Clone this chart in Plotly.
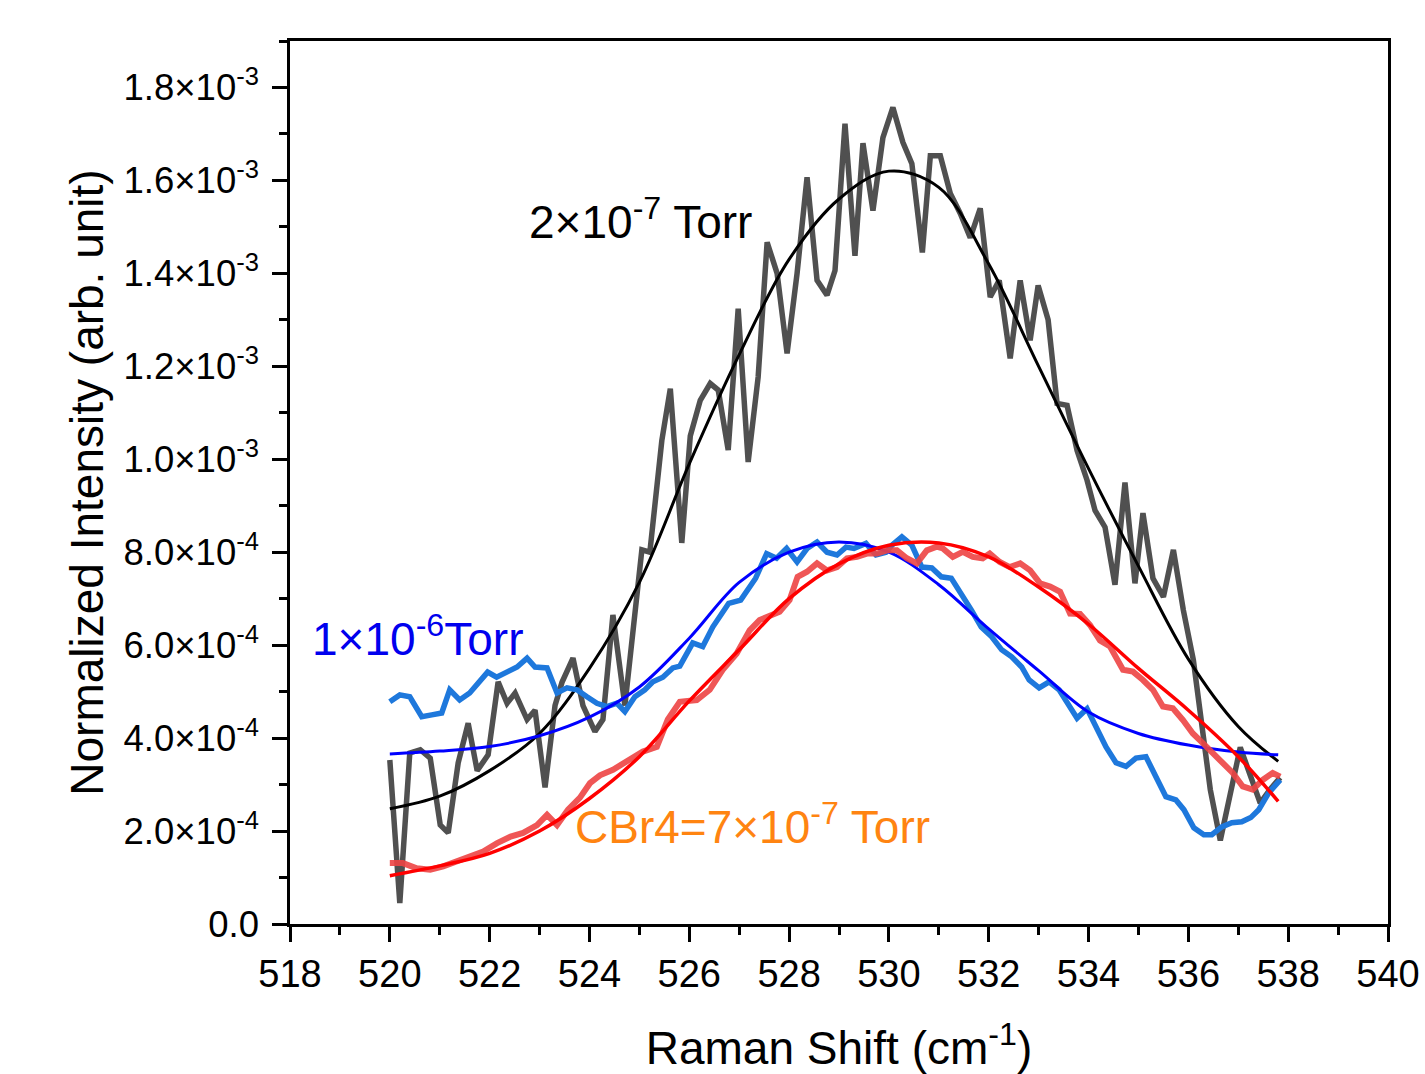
import numpy as np
import plotly.graph_objects as go

# Raman spectra around the 520 cm-1 band, intensities in units of 1e-3
UNIT = 1e-3

shift_2e7 = [520.00, 520.20, 520.40, 520.61, 520.81, 521.01, 521.17, 521.37, 521.57, 521.75,
             521.97, 522.17, 522.35, 522.51, 522.75, 522.91, 523.11, 523.31, 523.45, 523.67,
             523.87, 524.11, 524.27, 524.47, 524.71, 525.05, 525.21, 525.45, 525.62, 525.85,
             526.02, 526.22, 526.42, 526.58, 526.78, 526.98, 527.18, 527.38, 527.56, 527.76,
             527.96, 528.16, 528.36, 528.56, 528.76, 528.92, 529.12, 529.32, 529.48, 529.68,
             529.88, 530.08, 530.28, 530.46, 530.67, 530.83, 531.03, 531.23, 531.43, 531.63,
             531.83, 532.03, 532.21, 532.43, 532.63, 532.83, 532.99, 533.19, 533.37, 533.57,
             533.77, 533.97, 534.13, 534.33, 534.53, 534.73, 534.93, 535.09, 535.29, 535.50,
             535.70, 535.90, 536.10, 536.28, 536.44, 536.64, 536.84, 537.04, 537.24, 537.44,
             537.64, 537.84]
int_2e7 = [0.353, 0.045, 0.368, 0.375, 0.357, 0.213, 0.196, 0.347, 0.432, 0.330,
           0.364, 0.521, 0.475, 0.497, 0.440, 0.460, 0.294, 0.470, 0.520, 0.572,
           0.470, 0.414, 0.440, 0.665, 0.470, 0.805, 0.800, 1.040, 1.152, 0.820,
           1.050, 1.127, 1.163, 1.149, 1.020, 1.324, 0.994, 1.177, 1.467, 1.400,
           1.228, 1.400, 1.607, 1.385, 1.353, 1.406, 1.722, 1.438, 1.680, 1.535,
           1.692, 1.757, 1.682, 1.636, 1.445, 1.653, 1.653, 1.572, 1.529, 1.477,
           1.540, 1.349, 1.385, 1.217, 1.385, 1.256, 1.374, 1.300, 1.120, 1.116,
           1.019, 0.955, 0.890, 0.854, 0.730, 0.950, 0.733, 0.884, 0.744, 0.704,
           0.805, 0.675, 0.568, 0.410, 0.289, 0.180, 0.280, 0.380, 0.320, 0.260,
           0.290, 0.315]

shift_1e6 = [520.00, 520.20, 520.40, 520.64, 520.84, 521.04, 521.20, 521.40, 521.60, 521.80,
             521.96, 522.14, 522.34, 522.55, 522.75, 522.91, 523.15, 523.35, 523.55, 523.75,
             523.95, 524.15, 524.35, 524.55, 524.71, 524.91, 525.11, 525.27, 525.47, 525.67,
             525.81, 526.07, 526.27, 526.47, 526.79, 527.03, 527.33, 527.55, 527.75, 527.95,
             528.16, 528.36, 528.56, 528.76, 528.96, 529.14, 529.30, 529.54, 529.74, 529.94,
             530.06, 530.26, 530.46, 530.66, 530.86, 531.05, 531.25, 531.45, 531.65, 531.85,
             532.06, 532.26, 532.46, 532.66, 532.81, 533.01, 533.21, 533.41, 533.57, 533.77,
             533.97, 534.15, 534.35, 534.55, 534.75, 534.95, 535.15, 535.35, 535.55, 535.75,
             535.91, 536.11, 536.31, 536.47, 536.67, 536.87, 537.07, 537.25, 537.41, 537.61,
             537.84]
int_1e6 = [0.478, 0.493, 0.489, 0.446, 0.450, 0.454, 0.504, 0.482, 0.497, 0.521,
           0.542, 0.531, 0.542, 0.553, 0.572, 0.553, 0.551, 0.497, 0.508, 0.504,
           0.489, 0.475, 0.468, 0.475, 0.457, 0.489, 0.504, 0.521, 0.531, 0.551,
           0.555, 0.605, 0.597, 0.639, 0.690, 0.697, 0.744, 0.797, 0.787, 0.808,
           0.779, 0.808, 0.822, 0.800, 0.794, 0.811, 0.808, 0.819, 0.794, 0.800,
           0.815, 0.833, 0.815, 0.768, 0.766, 0.747, 0.744, 0.712, 0.676, 0.639,
           0.618, 0.590, 0.575, 0.553, 0.525, 0.508, 0.521, 0.504, 0.475, 0.443,
           0.463, 0.425, 0.381, 0.347, 0.339, 0.357, 0.360, 0.317, 0.274, 0.267,
           0.246, 0.207, 0.192, 0.192, 0.209, 0.218, 0.220, 0.229, 0.246, 0.282,
           0.310]

shift_cbr4 = [520.00, 520.26, 520.54, 520.81, 521.07, 521.35, 521.61, 521.87, 522.15, 522.42,
              522.67, 522.95, 523.15, 523.35, 523.57, 523.81, 524.01, 524.21, 524.47, 524.75,
              525.07, 525.35, 525.57, 525.81, 526.15, 526.41, 526.67, 526.95, 527.21, 527.41,
              527.67, 527.81, 528.01, 528.17, 528.36, 528.56, 528.76, 528.96, 529.16, 529.36,
              529.56, 529.76, 529.96, 530.16, 530.36, 530.56, 530.76, 530.96, 531.08, 531.28,
              531.48, 531.68, 531.88, 532.02, 532.22, 532.42, 532.63, 532.83, 533.03, 533.23,
              533.43, 533.63, 533.83, 534.03, 534.23, 534.43, 534.69, 534.89, 535.09, 535.29,
              535.49, 535.69, 535.89, 536.09, 536.29, 536.49, 536.69, 536.89, 537.09, 537.29,
              537.49, 537.69, 537.84]
int_cbr4 = [0.131, 0.131, 0.120, 0.117, 0.124, 0.135, 0.145, 0.156, 0.174, 0.188,
            0.196, 0.213, 0.235, 0.213, 0.246, 0.272, 0.303, 0.320, 0.332, 0.350,
            0.371, 0.381, 0.440, 0.478, 0.482, 0.504, 0.547, 0.582, 0.632, 0.654,
            0.668, 0.672, 0.697, 0.747, 0.758, 0.776, 0.761, 0.768, 0.787, 0.790,
            0.797, 0.797, 0.804, 0.804, 0.787, 0.776, 0.804, 0.812, 0.808, 0.790,
            0.801, 0.790, 0.787, 0.797, 0.779, 0.768, 0.776, 0.761, 0.733, 0.726,
            0.715, 0.668, 0.667, 0.643, 0.610, 0.597, 0.547, 0.543, 0.525, 0.504,
            0.468, 0.464, 0.439, 0.410, 0.389, 0.368, 0.346, 0.325, 0.296, 0.289,
            0.310, 0.325, 0.317]

# Gaussian fit curves, sampled every 1 cm-1
fit_shift = [520, 521, 522, 523, 524, 525, 526, 527, 528, 529,
             530, 531, 532, 533, 534, 535, 536, 537, 537.8]
fit_2e7 = [0.248, 0.275, 0.330, 0.410, 0.550, 0.735, 0.990, 1.225, 1.430, 1.560,
           1.620, 1.585, 1.420, 1.200, 0.980, 0.770, 0.570, 0.425, 0.350]
fit_1e6 = [0.366, 0.372, 0.382, 0.405, 0.445, 0.510, 0.615, 0.735, 0.800, 0.822,
           0.800, 0.730, 0.635, 0.545, 0.456, 0.410, 0.385, 0.370, 0.364]
fit_cbr4 = [0.104, 0.125, 0.152, 0.200, 0.270, 0.360, 0.480, 0.590, 0.700, 0.775,
            0.815, 0.820, 0.790, 0.725, 0.645, 0.550, 0.460, 0.360, 0.264]

x_ticks = list(range(518, 541, 2))
y_tick_vals = [0.0, 0.2, 0.4, 0.6, 0.8, 1.0, 1.2, 1.4, 1.6, 1.8]
y_tick_text = ["0.0",
               "2.0×10<sup>-4</sup>", "4.0×10<sup>-4</sup>", "6.0×10<sup>-4</sup>",
               "8.0×10<sup>-4</sup>", "1.0×10<sup>-3</sup>", "1.2×10<sup>-3</sup>",
               "1.4×10<sup>-3</sup>", "1.6×10<sup>-3</sup>", "1.8×10<sup>-3</sup>"]

FONT = "Arial, Liberation Sans, sans-serif"


def scaled(values):
    return np.array(values) * UNIT


fig = go.Figure()
fig.add_trace(go.Scatter(x=shift_2e7, y=scaled(int_2e7), mode="lines",
                         line=dict(color="#505050", width=5.5), name="2e-7 Torr"))
fig.add_trace(go.Scatter(x=fit_shift, y=scaled(fit_2e7), mode="lines",
                         line=dict(color="black", width=3, shape="spline"),
                         name="fit 2e-7 Torr"))
fig.add_trace(go.Scatter(x=shift_1e6, y=scaled(int_1e6), mode="lines",
                         line=dict(color="#1e78dc", width=5.5), name="1e-6 Torr"))
fig.add_trace(go.Scatter(x=fit_shift, y=scaled(fit_1e6), mode="lines",
                         line=dict(color="#0000ff", width=3, shape="spline"),
                         name="fit 1e-6 Torr"))
fig.add_trace(go.Scatter(x=shift_cbr4, y=scaled(int_cbr4), mode="lines",
                         line=dict(color="#ee4444", width=6), opacity=0.9,
                         name="CBr4 7e-7 Torr"))
fig.add_trace(go.Scatter(x=fit_shift, y=scaled(fit_cbr4), mode="lines",
                         line=dict(color="#ff0000", width=3.5, shape="spline"),
                         name="fit CBr4"))

axis_common = dict(showline=True, linecolor="black", linewidth=2.5, mirror=True,
                   showgrid=False, zeroline=False, ticks="outside", ticklen=15,
                   tickwidth=2.5, tickcolor="black", automargin=False)

fig.update_xaxes(range=[518, 540], tickvals=x_ticks,
                 tickfont=dict(family=FONT, size=38, color="black"),
                 minor=dict(dtick=1, ticks="outside", ticklen=8, tickwidth=2.5,
                            tickcolor="black"),
                 title=dict(text="Raman Shift (cm<sup>-1</sup>)",
                            font=dict(family=FONT, size=46, color="black"), standoff=38),
                 **axis_common)
fig.update_yaxes(range=[0, 1.9 * UNIT], tickvals=scaled(y_tick_vals), ticktext=y_tick_text,
                 tickfont=dict(family=FONT, size=36.5, color="black"),
                 ticklabelstandoff=6,
                 minor=dict(dtick=0.1 * UNIT, ticks="outside", ticklen=8, tickwidth=2.5,
                            tickcolor="black"),
                 title=dict(text="Normalized Intensity (arb. unit)",
                            font=dict(family=FONT, size=46, color="black"), standoff=6),
                 **axis_common)

annotations = [
    dict(x=525.03, y=1.518 * UNIT, text="2×10<sup>-7</sup> Torr", color="black"),
    dict(x=520.55, y=0.62 * UNIT, text="1×10<sup>-6</sup>Torr", color="#0000ee"),
    dict(x=527.26, y=0.215 * UNIT, text="CBr4=7×10<sup>-7</sup> Torr", color="#ff8411"),
]
for a in annotations:
    fig.add_annotation(x=a["x"], y=a["y"], text=a["text"], showarrow=False,
                       font=dict(family=FONT, size=46, color=a["color"]))

fig.update_layout(width=1425, height=1074, showlegend=False,
                  plot_bgcolor="white", paper_bgcolor="white",
                  margin=dict(l=290, r=37, t=41, b=150))

fig.write_html("out.html")
